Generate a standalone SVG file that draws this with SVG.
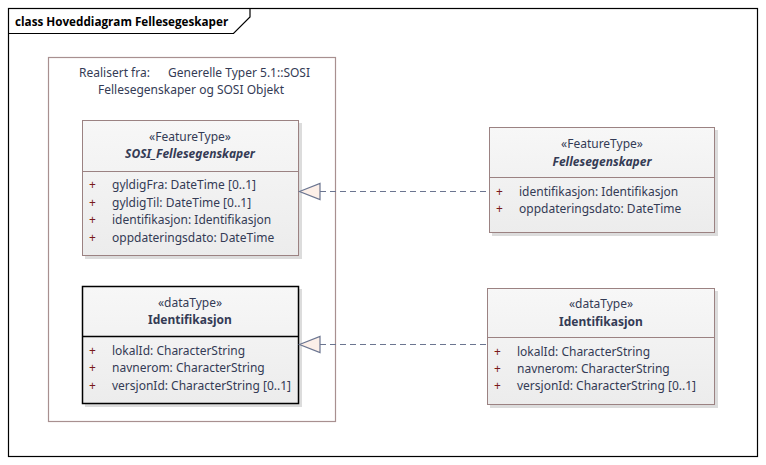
<svg xmlns="http://www.w3.org/2000/svg" width="766" height="465" viewBox="0 0 766 465">
<defs>
<linearGradient id="g" x1="0" y1="0" x2="0" y2="1">
<stop offset="0" stop-color="#f7f7f7"/>
<stop offset="1" stop-color="#ececec"/>
</linearGradient>
</defs>
<style>
text{font-family:"Noto Sans","Open Sans",sans-serif;font-size:12px;fill:#343b55}
.st{text-anchor:middle}
.nm{text-anchor:middle;font-weight:bold}
.it{font-style:italic}
.pl{fill:#7a1a1a}
.cls{fill:url(#g);stroke:#9b8282;stroke-width:1}
.clsb{fill:url(#g);stroke:#000;stroke-width:1.5}
.sh{fill:#dcdcdc}
.sep{stroke:#9b8282;stroke-width:1}
.sepb{stroke:#000;stroke-width:1.5}
.dash{stroke:#6b7590;stroke-width:1.2;stroke-dasharray:6,4;fill:none}
.tri{fill:#fcefe8;stroke:#6b7590;stroke-width:1.2}
</style>
<rect width="766" height="465" fill="#fff"/>
<g id="frame">
<rect x="8.5" y="8.5" width="749" height="448" fill="none" stroke="#000" stroke-width="1.2"/>
<path d="M8.5 33.5 H233.5 L250 17 V8.5" fill="none" stroke="#000" stroke-width="1.2"/>
<text x="15" y="26" style="font-family:'Open Sans','Noto Sans',sans-serif;font-weight:bold;font-size:11.7px;fill:#000">class Hoveddiagram Fellesegeskaper</text>
</g>
<g id="package">
<rect x="48.5" y="57.5" width="287" height="364" fill="#fff" stroke="#a89090" stroke-width="1.2"/>
<text x="79" y="77">Realisert fra:</text>
<text x="168" y="77">Generelle Typer 5.1::SOSI</text>
<text x="191" y="94" class="st">Fellesegenskaper og SOSI Objekt</text>
</g>
<g id="SOSI_Fellesegenskaper">
<rect x="85" y="123" width="217" height="136" class="sh"/>
<rect x="82.5" y="120.5" width="216" height="135" class="cls"/>
<line x1="82.5" y1="171.5" x2="298.5" y2="171.5" class="sep"/>
<text x="190" y="141" class="st">«FeatureType»</text>
<text x="190" y="158" class="nm it">SOSI_Fellesegenskaper</text>
<text x="89" y="189" class="pl">+</text><text x="112" y="189">gyldigFra: DateTime [0..1]</text>
<text x="89" y="207" class="pl">+</text><text x="112" y="207">gyldigTil: DateTime [0..1]</text>
<text x="89" y="224" class="pl">+</text><text x="112" y="224">identifikasjon: Identifikasjon</text>
<text x="89" y="242" class="pl">+</text><text x="112" y="242">oppdateringsdato: DateTime</text>
</g>
<g id="Identifikasjon_left">
<rect x="85" y="289" width="217" height="118" class="sh"/>
<rect x="82.5" y="286.5" width="216" height="117" class="clsb"/>
<line x1="82.5" y1="336.5" x2="298.5" y2="336.5" class="sepb"/>
<text x="190" y="307" class="st">«dataType»</text>
<text x="190" y="324" class="nm">Identifikasjon</text>
<text x="89" y="355" class="pl">+</text><text x="112" y="355">lokalId: CharacterString</text>
<text x="89" y="372" class="pl">+</text><text x="112" y="372">navnerom: CharacterString</text>
<text x="89" y="390" class="pl">+</text><text x="112" y="390">versjonId: CharacterString [0..1]</text>
</g>
<g id="Fellesegenskaper">
<rect x="492" y="130" width="226" height="106" class="sh"/>
<rect x="489.5" y="127.5" width="225" height="105" class="cls"/>
<line x1="489.5" y1="177.5" x2="714.5" y2="177.5" class="sep"/>
<text x="602" y="148" class="st">«FeatureType»</text>
<text x="602" y="166" class="nm it">Fellesegenskaper</text>
<text x="496" y="196" class="pl">+</text><text x="519" y="196">identifikasjon: Identifikasjon</text>
<text x="496" y="213" class="pl">+</text><text x="519" y="213">oppdateringsdato: DateTime</text>
</g>
<g id="Identifikasjon_right">
<rect x="490" y="291" width="228" height="117" class="sh"/>
<rect x="487.5" y="288.5" width="227" height="116" class="cls"/>
<line x1="487.5" y1="337.5" x2="714.5" y2="337.5" class="sep"/>
<text x="601" y="308" class="st">«dataType»</text>
<text x="601" y="326" class="nm">Identifikasjon</text>
<text x="494" y="356" class="pl">+</text><text x="517" y="356">lokalId: CharacterString</text>
<text x="494" y="373" class="pl">+</text><text x="517" y="373">navnerom: CharacterString</text>
<text x="494" y="390" class="pl">+</text><text x="517" y="390">versjonId: CharacterString [0..1]</text>
</g>
<g id="connectors">
<line x1="320" y1="191.5" x2="489" y2="191.5" class="dash"/>
<path d="M299.5 191.5 L320 183.5 L320 199.5 Z" class="tri"/>
<line x1="320" y1="344.5" x2="487" y2="344.5" class="dash"/>
<path d="M299.5 344.5 L320 336.5 L320 352.5 Z" class="tri"/>
</g>
</svg>
